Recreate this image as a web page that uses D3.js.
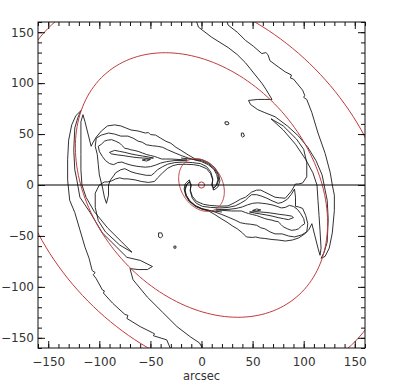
<!DOCTYPE html>
<html>
<head>
<meta charset="utf-8">
<script src="https://cdn.jsdelivr.net/npm/d3@7"></script>
<style>
  body { margin: 0; background: #fff; }
  svg { display: block; }
  .tick text { font-family: "DejaVu Sans", sans-serif; fill: #333; }
</style>
</head>
<body>
<svg id="galaxyChart"></svg>
<script>
// axis ticks (arcsec)
const majorTicks = [-150, -100, -50, 0, 50, 100, 150]
const minorTicks = d3.range(-160, 161, 10)

// resonance rings: semi-major axes, position angles (deg), common axis ratio
const ringSemiMajor = [27.5, 144, 215]
const ringAngle = [120, 130, 133]
const ringAxisRatio = 0.74
const centreMarkRadius = [3]

// contours, [x, y] in arcsec
// west side (upper-left bar, left arm, lower-left band)
const armWestOuter = [[-118,73],[-123,68],[-127,59],[-130,44],[-131,25],[-131,5],[-129,-15],[-124,-27],[-119,-44],[-114,-61],[-110,-72],[-107,-84],[-104,-86],[-106,-88],[-103,-92],[-97,-103],[-95,-104],[-96,-106],[-87,-116],[-75,-127],[-72,-128],[-73,-131],[-60,-139],[-48,-145],[-46,-146],[-47,-148],[-34,-152],[-29,-164]]
const armWestInner = [[-118,73],[-121,66],[-124,56],[-125,34],[-124,15],[-122,5],[-119,-12],[-109,-27],[-97,-47],[-83,-61],[-73,-71],[-60,-74],[-48,-80],[-53,-83],[-62,-83],[-70,-82],[-67,-93],[-53,-110],[-38,-125],[-24,-139],[-11,-149],[-2,-155],[3,-164]]
const barWest1 = [[12,-5],[16,-2],[18,4],[17,10],[13,17],[7,22],[0,25],[-6,25.5],[-13,29.5],[-20,34],[-25,37],[-30,41],[-35,43],[-40,46],[-45,49],[-50,49.5],[-52,51.5],[-55,51],[-62,53],[-69,54],[-74,56],[-79,58],[-85,59],[-92,58],[-98,53],[-103,47],[-106,42],[-108,38],[-111,50],[-114,62],[-116,69],[-118,62],[-118,45],[-118,30],[-118,15],[-117,0],[-113,-12],[-105,-26],[-92,-42],[-78,-56],[-68,-66],[-80,-59],[-94,-46],[-101,-35],[-104,-22],[-104,-8],[-100,0],[-95,3],[-92,3],[-88,4],[-84,6],[-80,7],[-76,6],[-72,6],[-65,5],[-59,3.5],[-52,2.5],[-46,3.5],[-43,7],[-38,12],[-33,16.5],[-28,19],[-23,20.2],[-15,20.3],[-8,20],[-2,19],[5,16],[9,11],[11,5],[10,0]]
const barWest2 = [[12,-3],[14.5,0],[16,5],[15,10],[12,15.5],[6.5,20],[0,23],[-6,24.5],[-13,26.5],[-20,29],[-26,31.5],[-33,34.5],[-38,37],[-43,38],[-48,38.5],[-54,39.5],[-58,42],[-62,43],[-67,46],[-72,48],[-79,48],[-85,50],[-91,51],[-98,49],[-103,46],[-104,38],[-102,30],[-101,20],[-100,10],[-97,-2],[-95,-12],[-93,-18],[-91,-10],[-91,0],[-89,5],[-86,9],[-84,12],[-79,15],[-75,16],[-69,13],[-64,11.5],[-59,10.5],[-54,9.5],[-49,9.5],[-46,12],[-43,15],[-38,18],[-33,20.5],[-26,22],[-18,22.5],[-9,22],[-1,21],[5,18],[9,13],[11,6],[10.5,0]]
const barWest3 = [[-14,24.5],[-22,25],[-29.5,25.5],[-35,25.5],[-39,25.5],[-43,27],[-46,28],[-50,29],[-54,30],[-58,31.5],[-62,33],[-66,34],[-69,34.5],[-72,35.5],[-75,36],[-78,39],[-80,41],[-84,43],[-88,44.5],[-92,44],[-95,43],[-98,40],[-101,38],[-100,33],[-97,28],[-94,24],[-90,21],[-86,20],[-82,22],[-78,22.5],[-74,21],[-69,19.5],[-64,18.5],[-60,18],[-55,17.5],[-50,18],[-45,19.5],[-40,21.5],[-34,23],[-26,24],[-18,24]]
const barWest4 = [[-90,32],[-85,34],[-80,33],[-75,32],[-69,30.5],[-64,29.5],[-58,28.5],[-52,27.5],[-47,26.5],[-52,26.2],[-58,26.5],[-64,27],[-70,27.8],[-76,28.8],[-82,29.5],[-88,30.5]]
const arcWestMid = [[11,-4],[15,0],[16.8,5],[16,10.5],[12.5,16],[6.8,21],[0,24],[-10,25.3],[-20,26.5]]
const blobsWest = [
  [[-58,24.5],[-54,25.5],[-50,25],[-54,23.5]],
  [[-42,-47],[-39,-47],[-38,-50],[-40,-52],[-42,-51]],
  [[-27,-60],[-25,-60],[-25,-62],[-27,-62]]
]

// east side (lower-right bar, right arm, upper-right band)
const armEastOuter = [[24,164],[26,157],[35,150],[43,142],[51,136],[59,129],[63,130],[65,128],[67,122],[75,116],[82,111],[88,108],[87,105],[90,104],[99,93],[101,88],[100,86],[103,84],[108,71],[114,51],[121,31],[126,12],[128,0],[130,-10],[130,-25],[128,-47],[125,-62],[121,-70],[117,-72]]
const armEastInner = [[117,-72],[120,-66],[123,-56],[124,-34],[123,-15],[121,-5],[118,10],[112,24],[104,37],[95,48],[84,58],[72,67],[62,71],[55,74],[48,79],[46,83],[55,84],[62,84],[69,84],[63,94],[59,100],[51,110],[43,120],[35,128],[26,135],[10,145],[-3,155],[-6,164]]
const barEast1 = [[-12,5],[-16,1],[-17,-4],[-15,-10],[-11,-16],[-5,-21],[2,-24],[7,-25.5],[13,-29],[20,-33.5],[25,-36.5],[30,-40],[35,-43],[40,-47],[44,-51],[50,-51.5],[53,-51],[57,-52],[62,-52.5],[69,-53.5],[75,-54],[82,-55],[89,-54],[95,-52],[101,-48],[105,-44],[108,-38],[111,-50],[114,-62],[116,-69],[117,-62],[116,-45],[115,-30],[114,-15],[113,0],[109,12],[102,25],[92,40],[80,54],[68,65],[80,58],[93,45],[100,35],[103,22],[103,8],[99,2],[95,1],[92,1],[88,-6],[82,-13],[76,-12.5],[72,-12],[66,-9],[62,-7],[58,-5],[54,-5],[49,-7],[43,-12],[38,-14],[33,-17],[26,-20.5],[18,-20.8],[8,-20],[2,-19],[-5,-16],[-9,-11],[-11,-5],[-10,0]]
const barEast2 = [[-12,3],[-14.5,0],[-16,-5],[-15,-10],[-12,-15.5],[-6.5,-20],[0,-23],[6,-24.5],[13,-26.5],[20,-29],[26,-31.5],[33,-34.5],[38,-37],[43,-38],[48,-38.5],[54,-39.5],[58,-42],[62,-43],[67,-46],[72,-48],[79,-48],[85,-50],[91,-51],[98,-49],[103,-46],[104,-38],[102,-30],[99,-23],[95,-21.5],[92,-21],[92,-12],[91,-4],[88,-9],[84,-14],[79,-17],[75,-18],[69,-15.5],[64,-13],[59,-11],[54,-9.5],[49,-9.5],[46,-12],[43,-15],[38,-18],[33,-20.5],[26,-22],[18,-22.5],[9,-22],[1,-21],[-5,-18],[-9,-13],[-11,-6],[-10.5,0]]
const barEast3 = [[14,-24.5],[22,-25],[29.5,-25.5],[35,-25.5],[39,-25.5],[43,-27],[46,-28],[50,-29],[54,-30],[58,-31.5],[62,-33],[66,-34],[69,-34.5],[72,-35.5],[75,-36],[78,-39],[80,-41],[84,-43],[88,-44.5],[92,-44],[95,-43],[98,-40],[101,-38],[100,-33],[97,-28],[94,-24],[90,-21],[86,-20],[82,-22],[78,-22.5],[74,-21],[69,-19.5],[64,-18.5],[60,-18],[55,-17.5],[50,-18],[45,-19.5],[40,-21.5],[34,-23],[26,-24],[18,-24]]
const barEast4 = [[90,-32],[85,-34],[80,-33],[75,-32],[69,-30.5],[64,-29.5],[58,-28.5],[52,-27.5],[47,-26.5],[52,-26.2],[58,-26.5],[64,-27],[70,-27.8],[76,-28.8],[82,-29.5],[88,-30.5]]
const arcEastMid = [[-11,4],[-15,0],[-16.5,-5],[-15.5,-10.5],[-12,-16],[-6,-21],[1,-24],[10,-25.3],[20,-26.5]]
const blobsEast = [
  [[58,-24.5],[54,-25.5],[50,-25],[54,-23.5]],
  [[23,62],[26,62],[27,60],[25,59],[23,60]],
  [[39,51],[41,51],[42,48],[40,47],[39,48]]
]

const openContours = [armWestOuter, armWestInner, arcWestMid, armEastOuter, armEastInner, arcEastMid]
const closedContours = [barWest1, barWest2, barWest3, barWest4, barEast1, barEast2, barEast3, barEast4, ...blobsWest, ...blobsEast]


function drawChart() {
const margin = ({top: 22, right: 30, bottom: 44, left: 38})
const svgWidth = 395
const svgHeight = 392
const width = svgWidth - margin.left - margin.right
const height = svgHeight - margin.top - margin.bottom

const svg = d3.select("#galaxyChart")
    .attr("width", svgWidth)
    .attr("height", svgHeight)

const xScale = d3.scaleLinear().domain([-160, 160]).range([0, width])
const yScale = d3.scaleLinear().domain([-160, 160]).range([height, 0])

svg.append("defs").append("clipPath")
    .attr("id", "plotClip")
  .append("rect")
    .attr("width", width)
    .attr("height", height)

const plot = svg.append("g")
    .attr("transform", `translate(${margin.left}, ${margin.top})`)

const inner = plot.append("g").attr("clip-path", "url(#plotClip)")

const line = d3.line().x(d => xScale(d[0])).y(d => yScale(d[1]))
const closedLine = d3.line().x(d => xScale(d[0])).y(d => yScale(d[1])).curve(d3.curveLinearClosed)

// black contours
inner.append("g").selectAll("path")
    .data(openContours)
    .join("path")
    .attr("d", line)
    .attr("fill", "none")
    .attr("stroke", "#1a1a1a")
    .attr("stroke-width", 0.9)

inner.append("g").selectAll("path")
    .data(closedContours)
    .join("path")
    .attr("d", closedLine)
    .attr("fill", "none")
    .attr("stroke", "#1a1a1a")
    .attr("stroke-width", 0.9)

// red rings (ellipses at their position angle)
const ringPoints = (a, angle) => {
    const theta = angle * Math.PI / 180
    return d3.range(0, 361, 2).map(t => {
        const r = t * Math.PI / 180
        const u = a * Math.cos(r), v = a * ringAxisRatio * Math.sin(r)
        return [u * Math.cos(theta) - v * Math.sin(theta), u * Math.sin(theta) + v * Math.cos(theta)]
    })
}

inner.append("g").selectAll("path")
    .data(ringSemiMajor)
    .join("path")
    .attr("d", (a, i) => line(ringPoints(a, ringAngle[i])))
    .attr("fill", "none")
    .attr("stroke", "#c23b3b")
    .attr("stroke-width", 1)

inner.selectAll("circle.centre")
    .data(centreMarkRadius)
    .join("circle")
    .attr("class", "centre")
    .attr("cx", xScale(0))
    .attr("cy", yScale(0))
    .attr("r", d => xScale(d) - xScale(0))
    .attr("fill", "none")
    .attr("stroke", "#c23b3b")
    .attr("stroke-width", 1)

// horizontal line at y = 0
plot.append("line")
    .attr("x1", xScale(-160)).attr("x2", xScale(160))
    .attr("y1", yScale(0)).attr("y2", yScale(0))
    .attr("stroke", "#000")
    .attr("stroke-width", 1.2)

// axes, ticks pointing inward on all four sides
const styleAxis = g => {
    g.select(".domain").remove()
    g.selectAll(".tick line").attr("stroke", "#111")
    g.selectAll(".tick text").style("font-size", "12px")
}

plot.append("g")
    .attr("transform", `translate(0, ${height})`)
    .call(d3.axisBottom(xScale).tickValues(majorTicks).tickSize(-7).tickPadding(9))
    .call(styleAxis)
plot.append("g")
    .attr("transform", `translate(0, ${height})`)
    .call(d3.axisBottom(xScale).tickValues(minorTicks).tickSize(-4).tickFormat(""))
    .call(styleAxis)

plot.append("g")
    .call(d3.axisLeft(yScale).tickValues(majorTicks).tickSize(-7).tickPadding(4))
    .call(styleAxis)
plot.append("g")
    .call(d3.axisLeft(yScale).tickValues(minorTicks).tickSize(-4).tickFormat(""))
    .call(styleAxis)

plot.append("g")
    .call(d3.axisTop(xScale).tickValues(majorTicks).tickSize(-7).tickFormat(""))
    .call(styleAxis)
plot.append("g")
    .call(d3.axisTop(xScale).tickValues(minorTicks).tickSize(-4).tickFormat(""))
    .call(styleAxis)

plot.append("g")
    .attr("transform", `translate(${width}, 0)`)
    .call(d3.axisRight(yScale).tickValues(majorTicks).tickSize(-7).tickFormat(""))
    .call(styleAxis)
plot.append("g")
    .attr("transform", `translate(${width}, 0)`)
    .call(d3.axisRight(yScale).tickValues(minorTicks).tickSize(-4).tickFormat(""))
    .call(styleAxis)

// frame
plot.append("rect")
    .attr("width", width)
    .attr("height", height)
    .attr("fill", "none")
    .attr("stroke", "#111")
    .attr("stroke-width", 1)

// x-axis title
svg.append("text")
    .attr("x", margin.left + xScale(0))
    .attr("y", 380)
    .attr("text-anchor", "middle")
    .attr("font-family", "DejaVu Sans, sans-serif")
    .attr("font-size", "11.5px")
    .attr("fill", "#333")
    .text("arcsec")
}

drawChart();
</script>
</body>
</html>
